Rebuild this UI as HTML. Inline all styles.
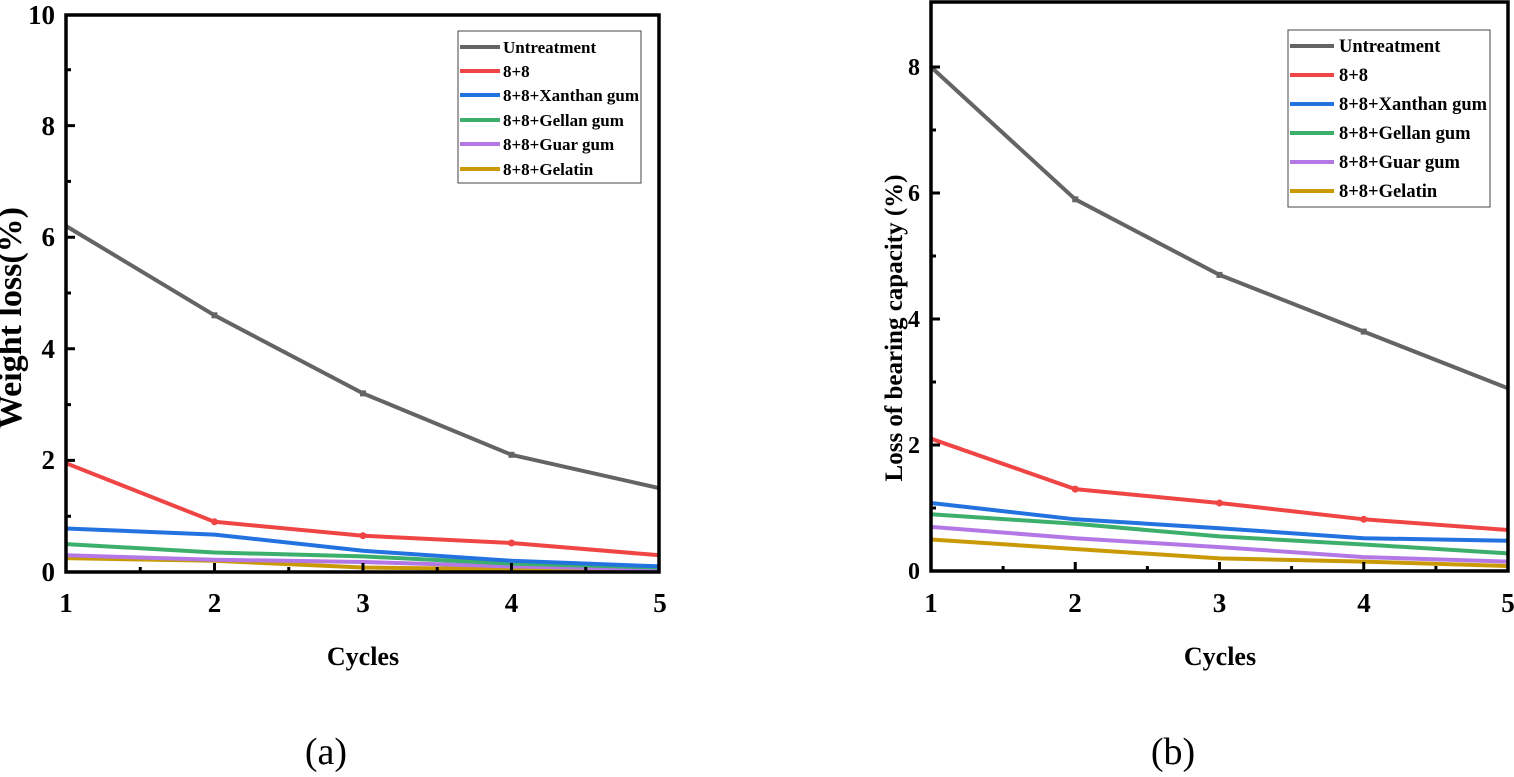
<!DOCTYPE html>
<html><head><meta charset="utf-8"><style>
html,body{margin:0;padding:0;background:#fff;}
svg{display:block;font-family:"Liberation Serif",serif;}
.t{font-weight:bold;}
</style></head><body>
<svg width="1514" height="777" viewBox="0 0 1514 777" xmlns="http://www.w3.org/2000/svg">
<g fill="none" stroke-width="4" stroke-linejoin="round">
<polyline stroke="#c99a06" points="66,558.1 214.5,560.8 363,567.5 511.5,569.2 660,570.3"/>
<polyline stroke="#b477e6" points="66,555.3 214.5,559.7 363,562 511.5,566.4 660,569.2"/>
<polyline stroke="#3caf6c" points="66,544.1 214.5,552.5 363,556.4 511.5,563.6 660,567.5"/>
<polyline stroke="#2272e0" points="66,528.5 214.5,534.6 363,550.8 511.5,560.8 660,566.4"/>
<polyline stroke="#f04545" points="66,463.2 214.5,521.8 363,535.7 511.5,543 660,555.3"/>
<polyline stroke="#646464" points="66,226 214.5,315.3 363,393.4 511.5,454.8 660,488.3"/>
<polyline stroke="#c99a06" points="931,539.5 1075.25,549 1219.5,558.4 1363.75,561.6 1508,566"/>
<polyline stroke="#b477e6" points="931,526.9 1075.25,538.2 1219.5,547.1 1363.75,557.1 1508,561.6"/>
<polyline stroke="#3caf6c" points="931,514.3 1075.25,523.8 1219.5,536.4 1363.75,544.5 1508,553.4"/>
<polyline stroke="#2272e0" points="931,503 1075.25,519.3 1219.5,528.2 1363.75,538.2 1508,540.8"/>
<polyline stroke="#f04545" points="931,438.7 1075.25,489.1 1219.5,503 1363.75,519.3 1508,530"/>
<polyline stroke="#646464" points="931,67 1075.25,199.3 1219.5,274.9 1363.75,331.6 1508,388.3"/>
</g>
<g fill="#646464"><rect x="211.5" y="312.3" width="6" height="6"/><rect x="360" y="390.4" width="6" height="6"/><rect x="508.5" y="451.8" width="6" height="6"/><rect x="1072.25" y="196.3" width="6" height="6"/><rect x="1216.5" y="271.9" width="6" height="6"/><rect x="1360.75" y="328.6" width="6" height="6"/></g>
<g fill="#f04545"><circle cx="214.5" cy="521.8" r="3.5"/><circle cx="363" cy="535.7" r="3.5"/><circle cx="511.5" cy="543" r="3.5"/><circle cx="1075.25" cy="489.1" r="3.5"/><circle cx="1219.5" cy="503" r="3.5"/><circle cx="1363.75" cy="519.3" r="3.5"/></g>

<g fill="none" stroke="#000" stroke-width="3.5">
<rect x="66" y="15" width="593" height="557"/>
<rect x="931" y="2" width="577" height="569"/>
</g>
<g stroke="#000" stroke-width="3">
<path d="M66 460.4h9M66 348.8h9M66 237.2h9M66 125.6h9M66 516.2h5M66 404.6h5M66 293h5M66 181.4h5M66 69.8h5"/>
<path d="M214.5 572v-9M363 572v-9M511.5 572v-9M140.25 572v-5M288.75 572v-5M437.25 572v-5M585.75 572v-5"/>
<path d="M931 445h9M931 319h9M931 193h9M931 67h9M931 508h5M931 382h5M931 256h5M931 130h5"/>
<path d="M1075.25 571v-9M1219.5 571v-9M1363.75 571v-9M1003.1 571v-5M1147.4 571v-5M1291.6 571v-5M1435.9 571v-5"/>
</g>
<g class="t" font-size="27" text-anchor="end">
<text x="55" y="581">0</text><text x="55" y="469">2</text><text x="55" y="358">4</text><text x="55" y="246">6</text><text x="55" y="135">8</text><text x="55" y="24">10</text>
</g>
<g class="t" font-size="24" text-anchor="end">
<text x="920" y="579">0</text><text x="920" y="453">2</text><text x="920" y="327">4</text><text x="920" y="201">6</text><text x="920" y="75">8</text>
</g>
<g class="t" font-size="27" text-anchor="middle">
<text x="66" y="612">1</text><text x="214.5" y="612">2</text><text x="363" y="612">3</text><text x="511.5" y="612">4</text><text x="660" y="612">5</text>
<text x="931" y="612">1</text><text x="1075" y="612">2</text><text x="1219.5" y="612">3</text><text x="1364" y="612">4</text><text x="1508" y="612">5</text>
<text x="363" y="665" font-size="26">Cycles</text>
<text x="1220" y="665" font-size="26">Cycles</text>
<text transform="translate(21,318) rotate(-90)" font-size="34">Weight loss(%)</text>
<text transform="translate(902,328) rotate(-90)" font-size="25">Loss of bearing capacity (%)</text>
</g>
<g font-size="38" text-anchor="middle" font-weight="normal">
<text x="326" y="764">(a)</text><text x="1173" y="764">(b)</text>
</g>
<rect x="458" y="31" width="183" height="152" fill="#fff" stroke="#444" stroke-width="1"/>
<g stroke-width="4">
<line x1="460" y1="47" x2="500" y2="47" stroke="#646464"/>
<line x1="460" y1="71" x2="500" y2="71" stroke="#f04545"/>
<line x1="460" y1="95" x2="500" y2="95" stroke="#2272e0"/>
<line x1="460" y1="120" x2="500" y2="120" stroke="#3caf6c"/>
<line x1="460" y1="144" x2="500" y2="144" stroke="#b477e6"/>
<line x1="460" y1="169" x2="500" y2="169" stroke="#c99a06"/>
</g>
<g class="t" font-size="17">
<text x="503" y="53">Untreatment</text><text x="503" y="77">8+8</text><text x="503" y="101">8+8+Xanthan gum</text><text x="503" y="126">8+8+Gellan gum</text><text x="503" y="150">8+8+Guar gum</text><text x="503" y="175">8+8+Gelatin</text>
</g>
<rect x="1288" y="30" width="202" height="177" fill="#fff" stroke="#444" stroke-width="1"/>
<g stroke-width="4">
<line x1="1290" y1="46" x2="1334" y2="46" stroke="#646464"/>
<line x1="1290" y1="75" x2="1334" y2="75" stroke="#f04545"/>
<line x1="1290" y1="104" x2="1334" y2="104" stroke="#2272e0"/>
<line x1="1290" y1="133" x2="1334" y2="133" stroke="#3caf6c"/>
<line x1="1290" y1="162" x2="1334" y2="162" stroke="#b477e6"/>
<line x1="1290" y1="191" x2="1334" y2="191" stroke="#c99a06"/>
</g>
<g class="t" font-size="18.5">
<text x="1339" y="52">Untreatment</text><text x="1339" y="81">8+8</text><text x="1339" y="110">8+8+Xanthan gum</text><text x="1339" y="139">8+8+Gellan gum</text><text x="1339" y="168">8+8+Guar gum</text><text x="1339" y="197">8+8+Gelatin</text>
</g>
</svg>
</body></html>
